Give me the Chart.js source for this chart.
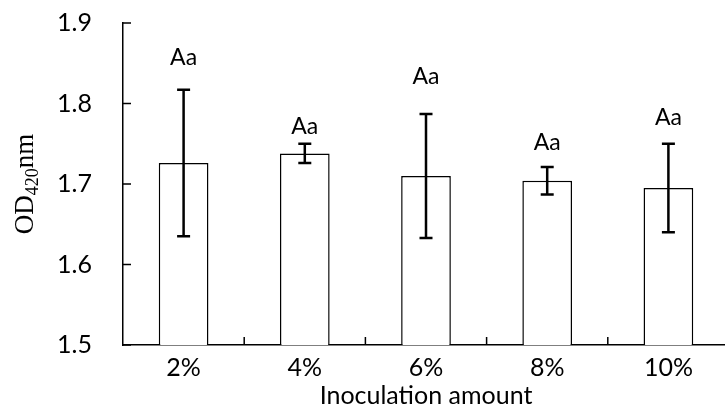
<!DOCTYPE html>
<html>
<head>
<meta charset="utf-8">
<script src="https://cdn.jsdelivr.net/npm/chart.js@4"></script>
<style>
    html, body { margin: 0; padding: 0; background: #fff; overflow: hidden; }
    #wrap { width: 731px; height: 411px; }
</style>
</head>
<body>
<div id="wrap"><canvas id="chart" width="731" height="411"></canvas></div>
<script>
// Dane z wykresu
const categories = ['2%', '4%', '6%', '8%', '10%'];
const values = [1.726, 1.738, 1.710, 1.704, 1.695];
const errors = [0.091, 0.012, 0.077, 0.017, 0.055];
const letters = ['Aa', 'Aa', 'Aa', 'Aa', 'Aa'];
const letterY = [1.857, 1.771, 1.833, 1.751, 1.783];
const yTicks = [1.5, 1.6, 1.7, 1.8, 1.9];

const FONT = 'Lato, sans-serif';
const FSIZE = 25;

// Słupki błędów
const errorBars = {
    id: 'errorBars',
    afterDatasetsDraw(chart) {
        const ctx = chart.ctx;
        const y = chart.scales.y;
        const meta = chart.getDatasetMeta(0);
        ctx.save();
        ctx.strokeStyle = '#000';
        ctx.lineWidth = 2.5;
        meta.data.forEach((bar, i) => {
            const top = y.getPixelForValue(values[i] + errors[i]);
            const bot = y.getPixelForValue(values[i] - errors[i]);
            ctx.beginPath();
            ctx.moveTo(bar.x, top); ctx.lineTo(bar.x, bot);
            ctx.moveTo(bar.x - 6.5, top); ctx.lineTo(bar.x + 6.5, top);
            ctx.moveTo(bar.x - 6.5, bot); ctx.lineTo(bar.x + 6.5, bot);
            ctx.stroke();
        });
        // litery istotności
        ctx.fillStyle = '#000';
        ctx.font = '23px ' + FONT;
        ctx.textAlign = 'center';
        ctx.textBaseline = 'middle';
        meta.data.forEach((bar, i) => {
            ctx.fillText(letters[i], bar.x, y.getPixelForValue(letterY[i]));
        });
        ctx.restore();
    }
};

// Znaczniki osi do środka + tytuł osi Y z indeksem dolnym
const axisExtras = {
    id: 'axisExtras',
    afterDraw(chart) {
        const ctx = chart.ctx;
        const x = chart.scales.x;
        const y = chart.scales.y;
        const area = chart.chartArea;
        ctx.save();
        ctx.strokeStyle = '#000';
        ctx.lineWidth = 1.5;
        ctx.beginPath();
        yTicks.forEach(v => {
            const py = y.getPixelForValue(v);
            ctx.moveTo(area.left, py); ctx.lineTo(area.left + 8, py);
        });
        const step = x.getPixelForValue(1) - x.getPixelForValue(0);
        for (let i = 0; i < categories.length - 1; i++) {
            const px = x.getPixelForValue(i) + step / 2;
            ctx.moveTo(px, area.bottom); ctx.lineTo(px, area.bottom - 8);
        }
        ctx.stroke();

        // OD420nm
        ctx.translate(33, (area.top + area.bottom) / 2);
        ctx.rotate(-Math.PI / 2);
        ctx.fillStyle = '#000';
        ctx.textBaseline = 'alphabetic';
        ctx.textAlign = 'left';
        const big = '27px "Liberation Serif", serif';
        const small = '18px "Liberation Serif", serif';
        ctx.font = big;
        const w1 = ctx.measureText('OD').width;
        ctx.font = small;
        const w2 = ctx.measureText('420').width;
        ctx.font = big;
        const w3 = ctx.measureText('nm').width;
        let sx = -(w1 + w2 + w3) / 2;
        ctx.fillText('OD', sx, 0);
        sx += w1;
        ctx.font = small;
        ctx.fillText('420', sx, 5);
        sx += w2;
        ctx.font = big;
        ctx.fillText('nm', sx, 0);
        ctx.restore();
    }
};

new Chart(document.getElementById('chart'), {
    type: 'bar',
    data: {
        labels: categories,
        datasets: [{
            data: values,
            backgroundColor: '#fff',
            borderColor: '#000',
            borderWidth: 1.5,
            barPercentage: 0.41,
            categoryPercentage: 1.0
        }]
    },
    options: {
        responsive: false,
        animation: false,
        layout: { padding: { left: 0, right: 2, top: 23, bottom: 0 } },
        plugins: { legend: { display: false }, tooltip: { enabled: false } },
        scales: {
            x: {
                grid: { display: false, drawTicks: false },
                border: { display: true, color: '#000', width: 1.5 },
                ticks: { color: '#000', font: { family: FONT, size: FSIZE }, padding: 8 },
                title: {
                    display: true,
                    text: 'Inoculation amount',
                    color: '#000',
                    font: { family: FONT, size: FSIZE },
                    padding: { top: 0, bottom: 0 }
                },
                afterFit(scale) { scale.height = 66; }
            },
            y: {
                min: 1.5,
                max: 1.9,
                // niewidoczne znaczniki dają odstęp etykiet od osi
                grid: { display: false, drawTicks: true, tickLength: 31 },
                border: { display: true, color: '#000', width: 1.5 },
                ticks: {
                    stepSize: 0.1,
                    color: '#000',
                    padding: 0,
                    font: { family: FONT, size: FSIZE },
                    callback: v => v.toFixed(1)
                },
                afterFit(scale) { scale.width = 123; }
            }
        }
    },
    plugins: [errorBars, axisExtras]
});
</script>
</body>
</html>
